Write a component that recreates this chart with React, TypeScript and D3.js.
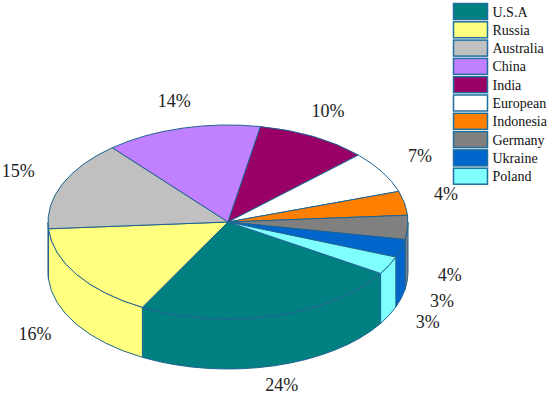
import * as React from 'react';
import * as d3 from 'd3';

const countries = ['U.S.A', 'Russia', 'Australia', 'China', 'India', 'European', 'Indonesia', 'Germany', 'Ukraine', 'Poland'];
const shares = [24, 16, 15, 14, 10, 7, 4, 4, 3, 3];
const colors = ['#008080', '#FFFF80', '#C0C0C0', '#C080FF', '#990066', '#FFFFFF', '#FF8000', '#808080', '#0066CC', '#80FFFF'];

const width = 550;
const height = 398;
const cx = 228;
const cy = 222;
const rx = 180;
const ry = 97;
const depth = 50;
const edge = '#1f6391';
const font = '"Times New Roman", "Liberation Serif", serif';

export default function App() {
  const ref = React.useRef<SVGSVGElement>(null);

  React.useEffect(() => {
    const svg = d3.select(ref.current);
    svg.selectAll('*').remove();

    const data = countries.map((name, i) => ({ name, value: shares[i], color: colors[i] }));

    // USA starts a bit below 3 o'clock and slices go clockwise
    const start = (122 / 180) * Math.PI;
    const pie = d3.pie<any>()
      .sort(null)
      .value(d => d.value)
      .startAngle(start)
      .endAngle(start + 2 * Math.PI);
    const arcs = pie(data);

    // point on the top ellipse for a pie angle (0 = 12 o'clock, clockwise)
    const pt = (a: number, dy = 0) => [cx + rx * Math.sin(a), cy - ry * Math.cos(a) + dy];

    const g = svg.append('g');

    // side walls, only the front half (pie angles pi/2 .. 3pi/2) shows
    const walls: any[] = [];
    arcs.forEach(d => {
      [0, 2 * Math.PI].forEach(off => {
        const a0 = Math.max(d.startAngle, Math.PI / 2 + off);
        const a1 = Math.min(d.endAngle, 3 * Math.PI / 2 + off);
        if (a1 > a0) walls.push({ a0, a1, color: d.data.color });
      });
    });

    g.selectAll('path.wall')
      .data(walls)
      .enter().append('path')
      .attr('class', 'wall')
      .attr('d', w => {
        const p0 = pt(w.a0), p1 = pt(w.a1);
        const q0 = pt(w.a0, depth), q1 = pt(w.a1, depth);
        return `M${p0}A${rx},${ry} 0 0 1 ${p1}L${q1}A${rx},${ry} 0 0 0 ${q0}Z`;
      })
      .attr('fill', w => w.color)
      .attr('stroke', edge)
      .attr('stroke-width', 1)
      .attr('stroke-linejoin', 'round');

    // top face sectors
    g.selectAll('path.top')
      .data(arcs)
      .enter().append('path')
      .attr('class', 'top')
      .attr('d', d => {
        const p0 = pt(d.startAngle), p1 = pt(d.endAngle);
        const large = d.endAngle - d.startAngle > Math.PI ? 1 : 0;
        return `M${cx},${cy}L${p0}A${rx},${ry} 0 ${large} 1 ${p1}Z`;
      })
      .attr('fill', d => d.data.color)
      .attr('stroke', edge)
      .attr('stroke-width', 1)
      .attr('stroke-linejoin', 'round');

    // percentage labels around the pie
    g.selectAll('text.label')
      .data(arcs)
      .enter().append('text')
      .attr('class', 'label')
      .each(function (d) {
        const mid = (d.startAngle + d.endAngle) / 2;
        const s = Math.sin(mid);
        const c = -Math.cos(mid);
        const x = cx + 210 * s;
        const y = cy + 2 + 1.25 * ry * c + (c > 0 ? depth : 0);
        const anchor = Math.abs(s) < 0.6 ? 'middle' : s > 0 ? 'start' : 'end';
        d3.select(this)
          .attr('x', x)
          .attr('y', y)
          .attr('text-anchor', anchor);
      })
      .attr('font-family', font)
      .attr('font-size', 18)
      .attr('fill', '#222')
      .text(d => `${d.data.value}%`);

    // legend
    const rowH = 18.3;
    const legend = svg.append('g')
      .attr('class', 'legend')
      .attr('transform', 'translate(453.5,3.5)');

    const entry = legend.selectAll('g')
      .data(data)
      .enter().append('g')
      .attr('transform', (d, i) => `translate(0,${i * rowH})`);

    entry.append('rect')
      .attr('width', 34)
      .attr('height', 16)
      .attr('fill', d => d.color)
      .attr('stroke', '#1f6f9f')
      .attr('stroke-width', 1.5);

    entry.append('text')
      .attr('x', 39)
      .attr('y', 13)
      .attr('font-family', font)
      .attr('font-size', 14)
      .attr('fill', '#111')
      .text(d => d.name);
  }, []);

  return (
    <svg
      ref={ref}
      width={width}
      height={height}
      style={{ position: 'absolute', left: 0, top: 0, background: '#fff' }}
    />
  );
}
